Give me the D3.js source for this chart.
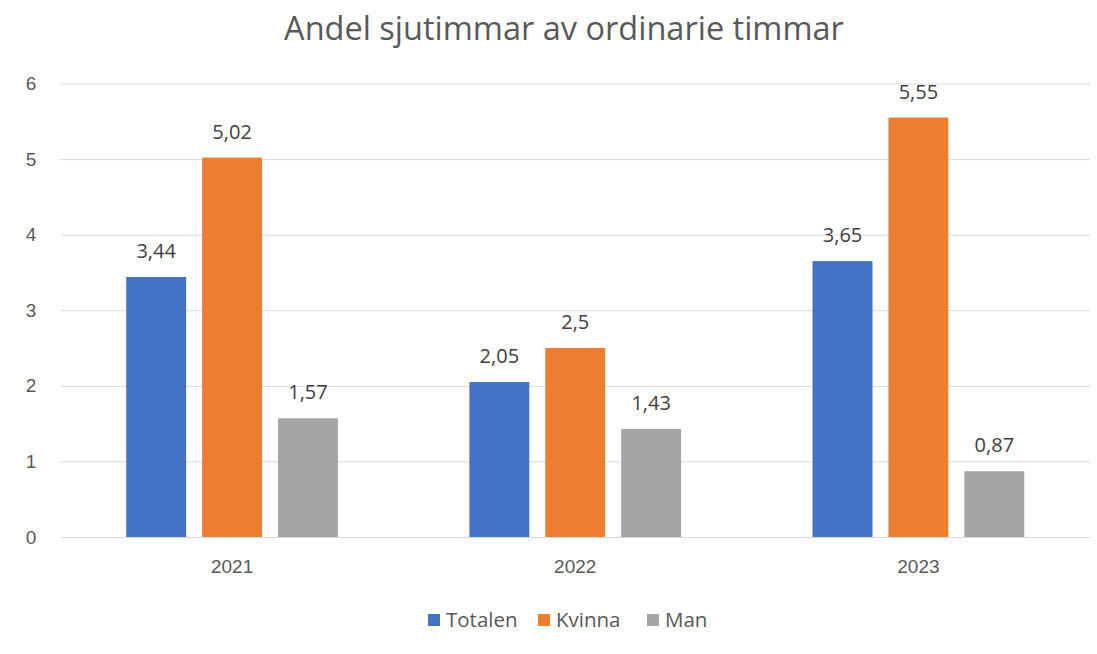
<!DOCTYPE html>
<html><head><meta charset="utf-8">
<script src="https://cdn.jsdelivr.net/npm/d3@7"></script>
<style>body{margin:0;background:#fff;} svg{display:block;font-family:"Open Sans","Noto Sans",sans-serif;}</style>
</head><body>
<svg id="c" width="1097" height="654"></svg>
<script>
const categories = ["2021", "2022", "2023"];
const seriesNames = ["Totalen", "Kvinna", "Man"];
const totalen = [3.44, 2.05, 3.65];
const kvinna = [5.02, 2.5, 5.55];
const man = [1.57, 1.43, 0.87];
const yTicks = [0, 1, 2, 3, 4, 5, 6];
const colors = ["#4472C4", "#ED7D31", "#A5A5A5"];
const title = "Andel sjutimmar av ordinarie timmar";

(function () {
const seriesValues = [totalen, kvinna, man];
const svg = d3.select("#c");
const pLeft = 60.5, pRight = 1090, pTop = 83.5, pBottom = 537;

const y = d3.scaleLinear().domain([0, 6]).range([pBottom, pTop]);
const x0 = d3.scaleBand().domain(categories).range([pLeft, pRight]).paddingInner(0.383).paddingOuter(0.1915);
const x1 = d3.scaleBand().domain(seriesNames).range([0, x0.bandwidth()]).paddingInner(0.2105);

svg.append("text").attr("x", 564).attr("y", 40).attr("text-anchor", "middle")
  .attr("font-size", 32.5).attr("fill", "#595959").text(title);

const yAxis = d3.axisLeft(y).tickValues(yTicks).tickSize(-(pRight - pLeft)).tickFormat(d3.format("d")).tickPadding(20);
const ga = svg.append("g").attr("transform", `translate(${pLeft},0)`).call(yAxis);
ga.select(".domain").remove();
ga.selectAll(".tick line").attr("stroke", "#d9d9d9").attr("stroke-width", 1);
ga.selectAll(".tick text").attr("fill", "#595959").attr("font-size", 19).attr("text-anchor", "middle").attr("x", -29.5);

const data = [];
categories.forEach((c, i) => seriesNames.forEach((s, j) => data.push({c, s, j, v: seriesValues[j][i]})));
svg.append("g").selectAll("rect").data(data).join("rect")
  .attr("x", d => x0(d.c) + x1(d.s)).attr("y", d => y(d.v))
  .attr("width", x1.bandwidth()).attr("height", d => y(0) - y(d.v))
  .attr("fill", d => colors[d.j]);

const xAxis = d3.axisBottom(x0).tickSize(0).tickPadding(23);
const gx = svg.append("g").attr("transform", `translate(0,${pBottom})`).call(xAxis);
gx.select(".domain").attr("stroke", "#d9d9d9");
gx.selectAll(".tick text").attr("fill", "#595959").attr("font-size", 19);

svg.append("g").selectAll("text").data(data).join("text")
  .attr("x", d => x0(d.c) + x1(d.s) + x1.bandwidth() / 2).attr("y", d => y(d.v) - 19)
  .attr("text-anchor", "middle").attr("font-size", 20).attr("fill", "#404040")
  .text(d => String(d.v).replace(".", ","));

const legendX = [428, 538, 647];
const lg = svg.append("g");
seriesNames.forEach((s, j) => {
  lg.append("rect").attr("x", legendX[j]).attr("y", 614).attr("width", 12).attr("height", 12).attr("fill", colors[j]);
  lg.append("text").attr("x", legendX[j] + 18).attr("y", 627).attr("font-size", 20.5).attr("fill", "#595959").text(s);
});
})();
</script>
</body></html>
